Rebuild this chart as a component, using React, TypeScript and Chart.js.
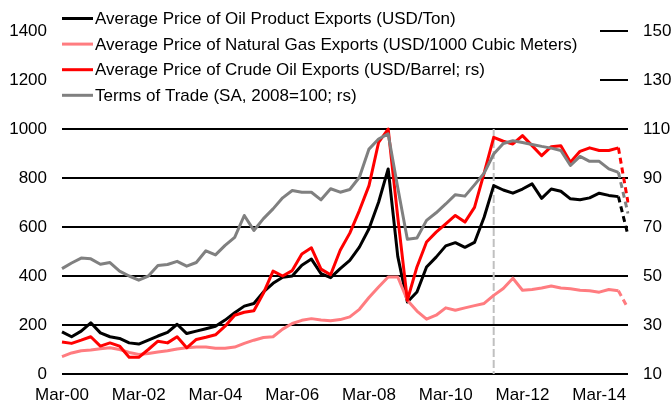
import React, { useEffect, useRef } from "react";
import { Chart, registerables } from "chart.js";

Chart.register(...registerables);

const QUARTERS = [
  "Mar-00","Jun-00","Sep-00","Dec-00","Mar-01","Jun-01","Sep-01","Dec-01",
  "Mar-02","Jun-02","Sep-02","Dec-02","Mar-03","Jun-03","Sep-03","Dec-03",
  "Mar-04","Jun-04","Sep-04","Dec-04","Mar-05","Jun-05","Sep-05","Dec-05",
  "Mar-06","Jun-06","Sep-06","Dec-06","Mar-07","Jun-07","Sep-07","Dec-07",
  "Mar-08","Jun-08","Sep-08","Dec-08","Mar-09","Jun-09","Sep-09","Dec-09",
  "Mar-10","Jun-10","Sep-10","Dec-10","Mar-11","Jun-11","Sep-11","Dec-11",
  "Mar-12","Jun-12","Sep-12","Dec-12","Mar-13","Jun-13","Sep-13","Dec-13",
  "Mar-14","Jun-14","Sep-14","Dec-14",
];

const TICK_LABELS = ["Mar-00", "Mar-02", "Mar-04", "Mar-06", "Mar-08", "Mar-10", "Mar-12", "Mar-14"];

// Left axis (USD/Ton, USD/1000 m3)
const OIL_PRODUCTS = [
  172, 152, 175, 209, 168, 152, 145, 127, 122, 138,
  155, 170, 203, 165, 175, 185, 195, 220, 250, 277,
  288, 335, 370, 395, 400, 444, 469, 410, 393, 430,
  464, 518, 593, 701, 837, 480, 294, 335, 437, 477,
  523, 536, 517, 537, 640, 769, 751, 738, 755, 776,
  717, 755, 746, 715, 711, 719, 738, 729, 724, 566,
];
const NATURAL_GAS = [
  71, 86, 95, 98, 103, 107, 100, 88, 80, 84,
  90, 95, 102, 107, 110, 110, 105, 105, 110, 125,
  138, 149, 152, 183, 206, 219, 226, 220, 217, 222,
  233, 264, 312, 355, 396, 396, 301, 257, 224, 240,
  270, 260, 270, 279, 288, 321, 349, 391, 342, 345,
  351, 359, 351, 348, 342, 340, 334, 345, 340, 268,
];
// Right axis (USD/Barrel, index)
const CRUDE_OIL = [
  23.1, 22.5, 23.8, 25.2, 21.4, 22.7, 21.4, 16.8, 16.8, 20.0,
  23.4, 22.7, 25.2, 20.7, 24.1, 25.0, 26.0, 29.5, 34.0, 35.2,
  35.8, 43.0, 52.0, 50.0, 52.2, 59.0, 61.5, 52.8, 50.5, 60.5,
  67.5, 76.7, 86.9, 104.5, 110.0, 74.0, 40.1, 53.7, 63.9, 67.9,
  71.3, 74.7, 72.0, 78.0, 92.0, 106.6, 105.0, 103.9, 107.3, 103.2,
  99.1, 102.8, 103.2, 96.4, 100.9, 102.3, 101.2, 101.2, 102.3, 80.0,
];
const TERMS_OF_TRADE = [
  53.0, 55.3, 57.3, 57.0, 54.8, 55.5, 52.0, 50.0, 48.3, 50.0,
  54.3, 54.7, 56.0, 54.0, 55.5, 60.3, 58.6, 62.5, 65.8, 74.7,
  68.6, 73.4, 77.4, 81.9, 84.9, 84.2, 84.2, 81.1, 85.6, 84.2,
  85.3, 90.3, 101.8, 105.9, 108.0, 86.0, 65.0, 65.5, 72.7, 75.8,
  79.4, 83.2, 82.6, 87.2, 92.0, 99.8, 104.1, 105.2, 104.5, 103.7,
  102.9, 102.2, 101.2, 95.1, 98.8, 96.8, 96.8, 93.7, 92.3, 75.5,
];

const SERIES_LABELS = [
  "Average Price of Oil Product Exports (USD/Ton)",
  "Average Price of Natural Gas Exports (USD/1000 Cubic Meters)",
  "Average Price of Crude Oil Exports (USD/Barrel; rs)",
  "Terms of Trade (SA, 2008=100; rs)",
];
const COLORS = ["#000000", "#FF7C80", "#FF0000", "#808080"];

const MARKER_INDEX = 45; // vertical dashed divider
const LAST = QUARTERS.length - 1;

const FONT = "Arial, 'Liberation Sans', sans-serif";
const FONT_SIZE = 17;

const overlayPlugin = {
  id: "overlay",
  beforeDatasetsDraw(chart: any) {
    const { ctx, chartArea, scales } = chart;
    ctx.save();
    // white legend background covering upper gridlines
    ctx.fillStyle = "#ffffff";
    ctx.fillRect(chartArea.left - 2, 0, 600 - chartArea.left + 2, 112);
    // legend
    ctx.font = `${FONT_SIZE}px ${FONT}`;
    ctx.textBaseline = "middle";
    ctx.textAlign = "left";
    chart.data.datasets.forEach((ds: any, k: number) => {
      const y = 18.5 + k * 25.6;
      ctx.strokeStyle = ds.borderColor;
      ctx.lineWidth = 3;
      ctx.setLineDash([]);
      ctx.beginPath();
      ctx.moveTo(chartArea.left, y);
      ctx.lineTo(chartArea.left + 31, y);
      ctx.stroke();
      ctx.fillStyle = "#000";
      ctx.fillText(ds.label, chartArea.left + 33, y + 1);
    });
    // vertical dashed divider
    const x = scales.x.getPixelForValue(MARKER_INDEX);
    ctx.strokeStyle = "#C0C0C0";
    ctx.lineWidth = 2;
    ctx.setLineDash([8, 3]);
    ctx.beginPath();
    ctx.moveTo(x, scales.y.getPixelForValue(1000));
    ctx.lineTo(x, scales.y.getPixelForValue(0));
    ctx.stroke();
    ctx.restore();
  },
};

export default function App() {
  const ref = useRef<HTMLCanvasElement | null>(null);

  useEffect(() => {
    if (!ref.current) return;
    Chart.defaults.font.family = FONT;
    Chart.defaults.color = "#000";
    const seriesData = [OIL_PRODUCTS, NATURAL_GAS, CRUDE_OIL, TERMS_OF_TRADE];
    const axes = ["y", "y", "y2", "y2"];
    const orders = [3, 2, 1, 0];
    const chart = new Chart(ref.current, {
      type: "line",
      data: {
        labels: QUARTERS,
        datasets: seriesData.map((d, k) => ({
          label: SERIES_LABELS[k],
          data: d,
          borderColor: COLORS[k],
          backgroundColor: COLORS[k],
          borderWidth: 3,
          pointRadius: 0,
          tension: 0,
          borderJoinStyle: "round" as const,
          yAxisID: axes[k],
          order: orders[k],
          segment: {
            borderDash: (c: any) => (c.p1DataIndex === LAST ? [6, 4] : undefined),
          },
        })),
      },
      options: {
        responsive: false,
        animation: false,
        events: [],
        layout: { padding: { top: 31, left: 0, right: 0, bottom: 0 } },
        plugins: { legend: { display: false }, tooltip: { enabled: false } },
        scales: {
          x: {
            type: "category",
            offset: false,
            grid: { display: false, drawTicks: false },
            border: { display: false },
            ticks: {
              autoSkip: false,
              maxRotation: 0,
              padding: 11,
              font: { size: FONT_SIZE },
              callback: (_v: any, i: number) =>
                TICK_LABELS.includes(QUARTERS[i]) ? QUARTERS[i] : null,
            },
            afterFit: (s: any) => {
              s.height = 31;
            },
          },
          y: {
            position: "left",
            min: 0,
            max: 1400,
            grid: { color: "#000", lineWidth: 2, drawTicks: false },
            border: { display: false },
            ticks: {
              stepSize: 200,
              padding: 15,
              font: { size: FONT_SIZE },
              callback: (v: any) => String(v),
            },
            afterFit: (s: any) => {
              s.width = 62;
            },
          },
          y2: {
            position: "right",
            min: 10,
            max: 150,
            grid: { display: false, drawTicks: false },
            border: { display: false },
            ticks: {
              stepSize: 20,
              padding: 15,
              font: { size: FONT_SIZE },
              callback: (v: any) => String(v),
            },
            afterFit: (s: any) => {
              s.width = 44;
            },
          },
        },
      },
      plugins: [overlayPlugin],
    });
    return () => chart.destroy();
  }, []);

  return (
    <div style={{ position: "absolute", left: 0, top: 0, width: 672, height: 405, background: "#fff" }}>
      <canvas ref={ref} width={672} height={405} style={{ display: "block" }} />
    </div>
  );
}
